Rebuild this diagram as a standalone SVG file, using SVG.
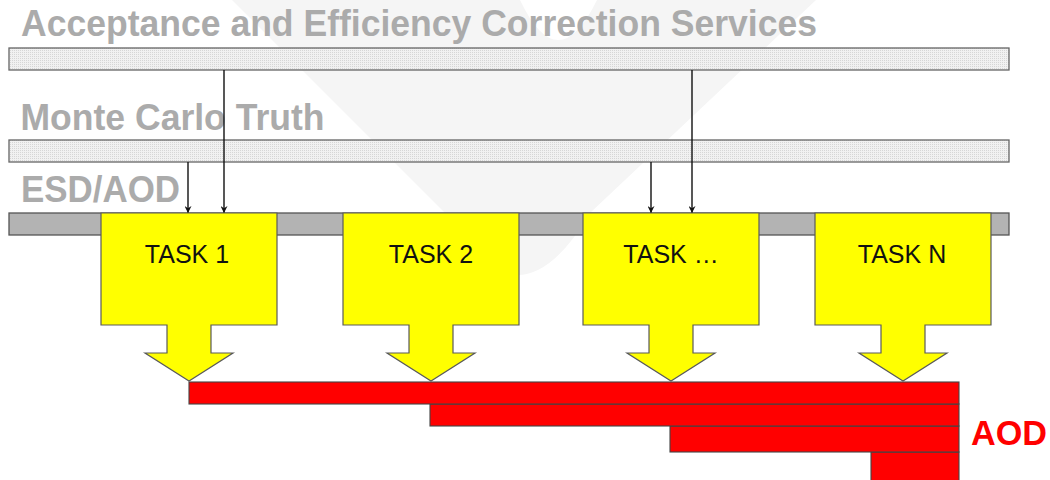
<svg xmlns="http://www.w3.org/2000/svg" width="1050" height="480" viewBox="0 0 1050 480">
  <defs>
    <pattern id="dots" width="2" height="2" patternUnits="userSpaceOnUse">
      <rect width="2" height="2" fill="#f1f1f1"/>
      <rect width="1" height="1" fill="#d6d6d6"/>
    </pattern>
    <marker id="ah2" viewBox="0 0 8 8" refX="8" refY="4" markerWidth="7" markerHeight="7" orient="auto" markerUnits="userSpaceOnUse">
      <path d="M0,0 L8,4 L0,8 L2.5,4 Z" fill="#111"/>
    </marker>
  </defs>
  <style>
    .title { font-family: "Liberation Sans", Arial, sans-serif; font-weight: bold; font-size: 36.5px; fill: #ababab; }
    .svcbar { fill: url(#dots); stroke: #666; stroke-width: 1.3; }
    .esdbar { fill: #b3b3b3; stroke: #555; stroke-width: 1.3; }
    .task { fill: #ffff00; stroke: #5a5a5a; stroke-width: 1.2; stroke-linejoin: miter; }
    .tasklabel { font-family: "Liberation Sans", Arial, sans-serif; font-size: 25px; fill: #111; text-anchor: middle; }
    .aod { fill: #ff0000; stroke: #444; stroke-width: 1.1; }
    .aodlabel { font-family: "Liberation Sans", Arial, sans-serif; font-weight: bold; font-size: 35px; fill: #ff0000; }
    .conn { stroke: #111; stroke-width: 1.4; fill: none; marker-end: url(#ah2); }
  </style>

  <rect width="1050" height="480" fill="#ffffff"/>
  <!-- faint background watermark -->
  <path d="M232,0 L520,0 Q558,80 597,0 L816,0 L590,213 Q517,337 445,213 Z" fill="#f5f5f5"/>

  <g id="acceptance-services">
    <text class="title" x="21" y="36" textLength="796" lengthAdjust="spacingAndGlyphs">Acceptance and Efficiency Correction Services</text>
    <rect class="svcbar" x="9" y="48" width="1000" height="22"/>
  </g>

  <g id="mc-truth">
    <text class="title" x="20.5" y="130" textLength="304" lengthAdjust="spacingAndGlyphs">Monte Carlo Truth</text>
    <rect class="svcbar" x="9" y="140" width="1000" height="22"/>
  </g>

  <g id="esd-aod">
    <text class="title" x="21" y="201.5" textLength="159" lengthAdjust="spacingAndGlyphs">ESD/AOD</text>
    <rect class="esdbar" x="9" y="213" width="1000" height="22"/>
  </g>

  <g id="connectors">
    <line class="conn" x1="224" y1="70" x2="224" y2="213"/>
    <line class="conn" x1="188" y1="162" x2="188" y2="213"/>
    <line class="conn" x1="692" y1="70" x2="692" y2="213"/>
    <line class="conn" x1="651" y1="162" x2="651" y2="213"/>
  </g>

  <g id="aod-output">
    <rect class="aod" x="871" y="452" width="88" height="30"/>
    <rect class="aod" x="670" y="426" width="289" height="26"/>
    <rect class="aod" x="430" y="404" width="529" height="22"/>
    <rect class="aod" x="189" y="382" width="770" height="22"/>
    <text class="aodlabel" x="971" y="445" textLength="76" lengthAdjust="spacingAndGlyphs">AOD</text>
  </g>

  <g id="task-1">
    <path class="task" d="M101,213 H277 V325 H211 V353 H233 L189,381 L145,353 H167 V325 H101 Z"/>
    <text class="tasklabel" x="187" y="262.5">TASK 1</text>
  </g>
  <g id="task-2">
    <path class="task" d="M343,213 H519 V325 H453 V353 H475 L431,381 L387,353 H409 V325 H343 Z"/>
    <text class="tasklabel" x="431" y="262.5">TASK 2</text>
  </g>
  <g id="task-dots">
    <path class="task" d="M583,213 H759 V325 H693 V353 H715 L671,381 L627,353 H649 V325 H583 Z"/>
    <text class="tasklabel" x="671" y="262.5">TASK …</text>
  </g>
  <g id="task-n">
    <path class="task" d="M815,213 H991 V325 H925 V353 H947 L903,381 L859,353 H881 V325 H815 Z"/>
    <text class="tasklabel" x="902" y="262.5">TASK N</text>
  </g>
</svg>
